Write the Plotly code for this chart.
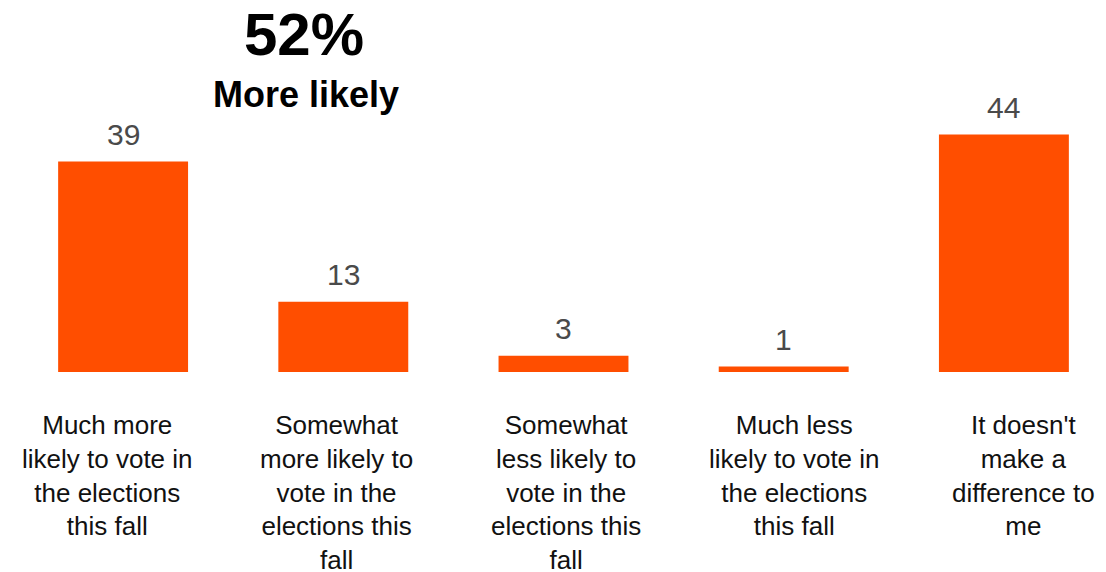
import plotly.graph_objects as go

categories = [
    "Much more<br>likely to vote in<br>the elections<br>this fall",
    "Somewhat<br>more likely to<br>vote in the<br>elections this<br>fall",
    "Somewhat<br>less likely to<br>vote in the<br>elections this<br>fall",
    "Much less<br>likely to vote in<br>the elections<br>this fall",
    "It doesn't<br>make a<br>difference to<br>me",
]
values = [39, 13, 3, 1, 44]
headline_value = "52%"
headline_label = "More likely"

FONT = "Liberation Sans, Arial, Helvetica, sans-serif"
BAR_COLOR = "#FF4E00"

W, H = 1106, 572
PAGE_OFFSET = 8  # default page body margin
M_L, M_R, M_T = 13 - PAGE_OFFSET, 0, 0
BASELINE = 372 - PAGE_OFFSET
M_B = H - BASELINE
PX_PER_UNIT = 5.395
plot_h = H - M_T - M_B
plot_w = W - M_L - M_R
ymax = plot_h / PX_PER_UNIT

xs = list(range(len(values)))

fig = go.Figure()
fig.add_trace(go.Bar(
    x=xs, y=values,
    marker=dict(color=BAR_COLOR, line=dict(width=0)),
    width=0.59,
    hoverinfo="skip",
))

# value labels above bars
for i, v in zip(xs, values):
    fig.add_annotation(
        x=i, y=v, xref="x", yref="y",
        text=str(v), showarrow=False,
        xanchor="center", yanchor="bottom", yshift=9,
        font=dict(family=FONT, size=30, color="#4a4a4a"),
    )

# category labels (slightly wider pitch than the bars)
label_pitch_extra = 8.8
label_offset = 2.2
for i, lab in zip(xs, categories):
    fig.add_annotation(
        x=i, y=0, xref="x", yref="y",
        text=lab, showarrow=False,
        xanchor="center", yanchor="top", yshift=-36,
        xshift=(i - 2) * label_pitch_extra + label_offset,
        align="center",
        font=dict(family=FONT, size=26, color="#111111"),
    )

# headline
fig.add_annotation(
    x=(304 - PAGE_OFFSET - M_L) / plot_w, y=1 - (35 - PAGE_OFFSET) / plot_h,
    xref="paper", yref="paper", showarrow=False,
    text="<b>" + headline_value + "</b>", xanchor="center", yanchor="middle",
    font=dict(family=FONT, size=60, color="#000000"),
)
fig.add_annotation(
    x=(306 - PAGE_OFFSET - M_L) / plot_w, y=1 - (94 - PAGE_OFFSET) / plot_h,
    xref="paper", yref="paper", showarrow=False,
    text="<b>" + headline_label + "</b>", xanchor="center", yanchor="middle",
    font=dict(family=FONT, size=36, color="#000000"),
)

fig.update_layout(
    width=W, height=H,
    margin=dict(l=M_L, r=M_R, t=M_T, b=M_B),
    paper_bgcolor="white", plot_bgcolor="white",
    showlegend=False,
    xaxis=dict(range=[-0.5, len(values) - 0.5], showticklabels=False,
               showgrid=False, zeroline=False, showline=False, ticks=""),
    yaxis=dict(range=[0, ymax], visible=False, showgrid=False, zeroline=False),
)

fig.write_html("out.html")
